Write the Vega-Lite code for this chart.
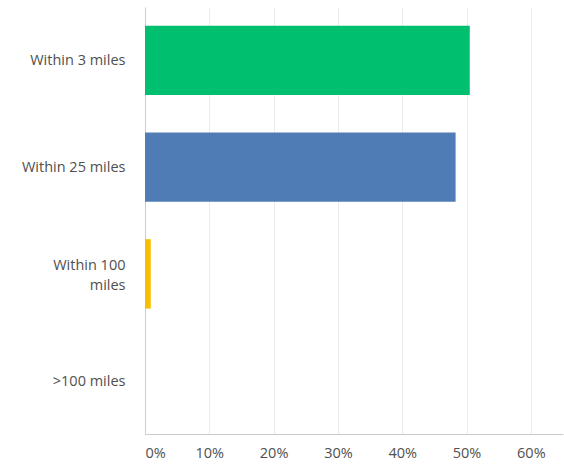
{
  "$schema": "https://vega.github.io/schema/vega-lite/v6.json",
  "autosize": {"type": "none"},
  "width": 418,
  "height": 427,
  "padding": {"left": 145, "top": 7, "right": 1, "bottom": 31},
  "background": "white",
  "config": {"view": {"stroke": null}, "font": "Open Sans"},
  "data": {
    "values": [
      {"answer": "Within 3 miles", "share": 0.505, "color": "#00BF6F"},
      {"answer": "Within 25 miles", "share": 0.483, "color": "#507CB6"},
      {"answer": "Within 100 miles", "share": 0.009, "color": "#F9BE00"},
      {"answer": ">100 miles", "share": 0, "color": "#F05B24"}
    ]
  },
  "mark": {"type": "bar"},
  "encoding": {
    "y": {
      "field": "answer",
      "type": "nominal",
      "sort": null,
      "scale": {"paddingInner": 0.35, "paddingOuter": 0.175},
      "axis": {
        "title": null,
        "ticks": false,
        "domainColor": "#cccccc",
        "labelColor": "#505050",
        "labelFontSize": 14.5,
        "labelPadding": 20,
        "labelLineHeight": 20,
        "labelOffset": {"condition": {"test": "datum.value == 'Within 100 miles'", "value": -8}, "value": 1},
        "labelExpr": "datum.value == 'Within 100 miles' ? ['Within 100', 'miles'] : datum.value"
      }
    },
    "x": {
      "field": "share",
      "type": "quantitative",
      "scale": {"domain": [0, 0.65], "nice": false},
      "axis": {
        "title": null,
        "values": [0, 0.1, 0.2, 0.3, 0.4, 0.5, 0.6],
        "format": ".0%",
        "ticks": false,
        "grid": true,
        "gridColor": "#ebebeb",
        "domainColor": "#cccccc",
        "labelColor": "#505050",
        "labelFontSize": 14.5,
        "labelPadding": 12
      }
    },
    "color": {"field": "color", "type": "nominal", "scale": null, "legend": null}
  }
}
